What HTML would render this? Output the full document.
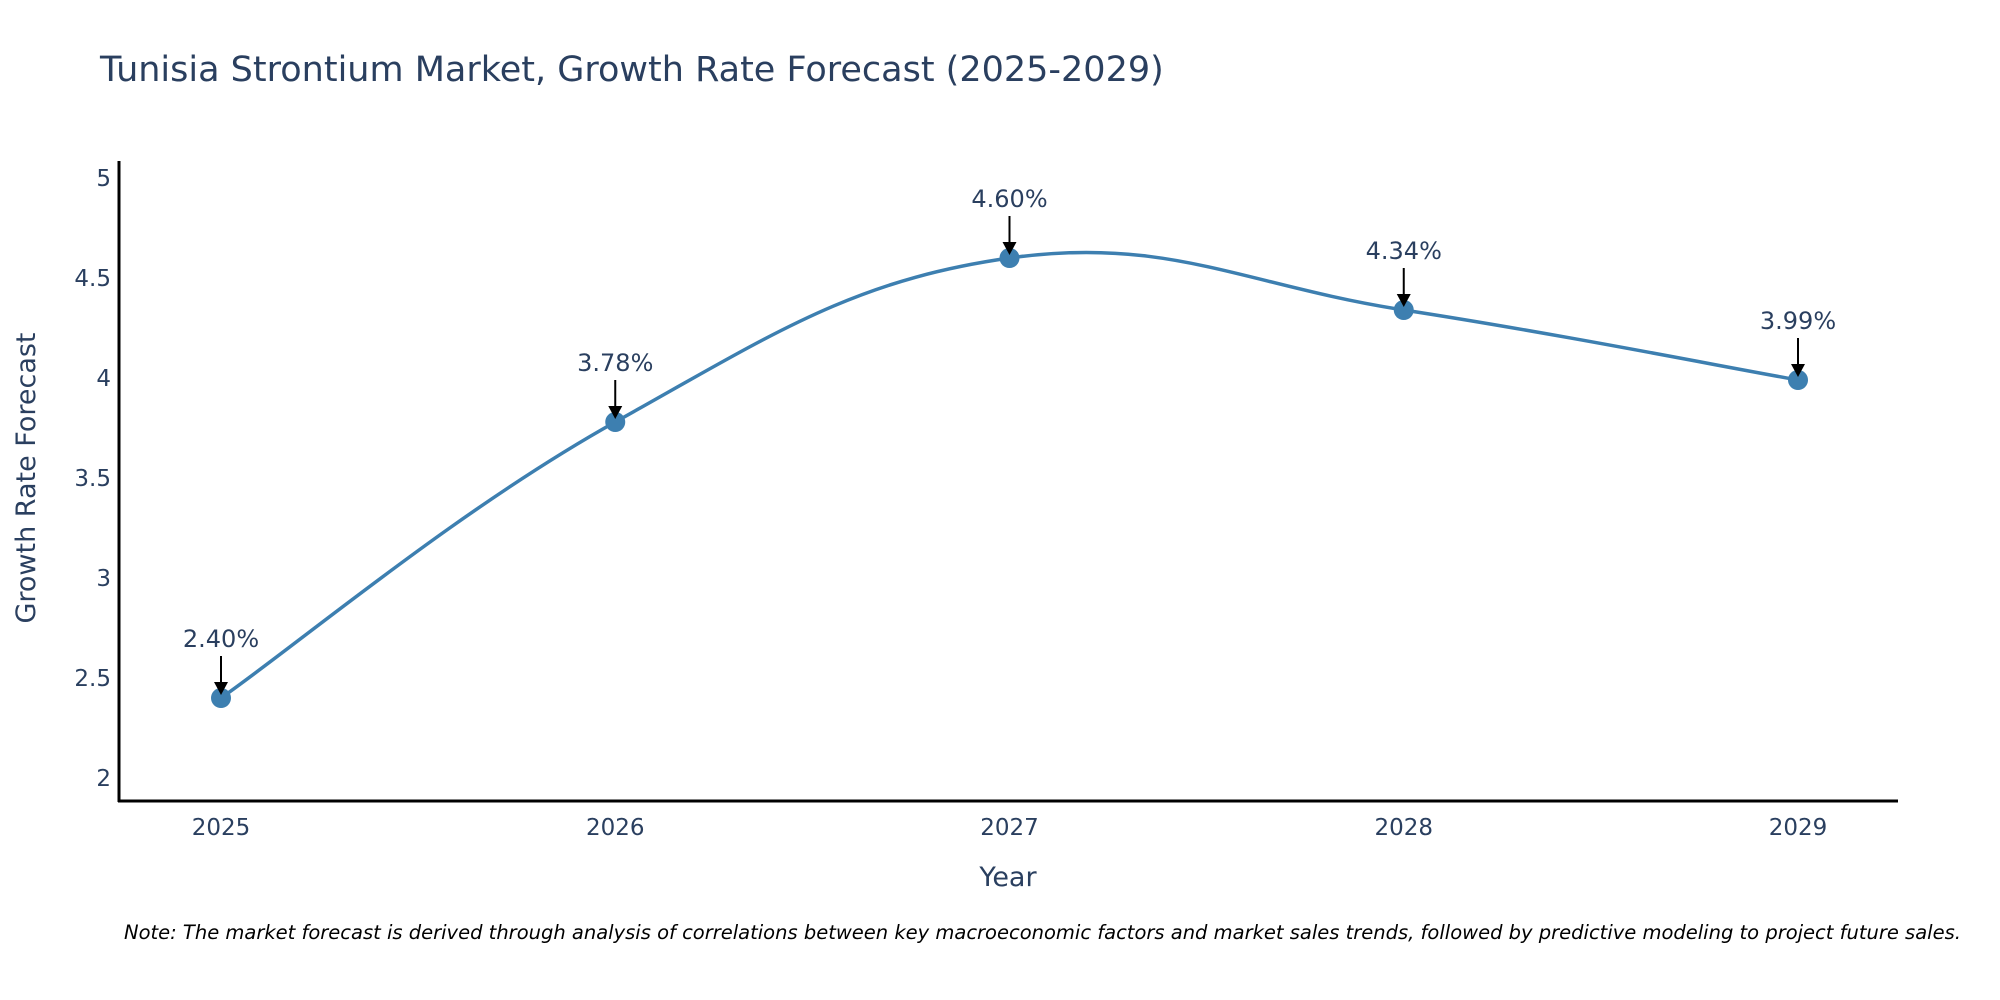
<!DOCTYPE html>
<html><head><meta charset="utf-8"><style>
html,body{margin:0;padding:0;background:#fff;}
svg{display:block;font-family:"DejaVu Sans","Liberation Sans",sans-serif;}
</style></head><body>
<svg id="chart" width="2000" height="1000" viewBox="0 0 2000 1000">
<text x="100" y="81" font-size="35" fill="#2a3f5f">Tunisia Strontium Market, Growth Rate Forecast (2025-2029)</text>
<g id="yticks"></g>
<g id="xticks"></g>
<line x1="119" y1="161" x2="119" y2="802" stroke="#000" stroke-width="3"/>
<line x1="118" y1="801" x2="1898" y2="801" stroke="#000" stroke-width="3"/>
<path id="line" fill="none" stroke="#3d7fb0" stroke-width="3.5"/>
<g id="points"></g>
<g id="annots"></g>
<text x="1008" y="886" font-size="27" fill="#2a3f5f" text-anchor="middle">Year</text>
<text transform="translate(35,478) rotate(-90)" font-size="27" fill="#2a3f5f" text-anchor="middle">Growth Rate Forecast</text>
<text x="124" y="939" font-size="19.5" font-style="italic" fill="#000">Note: The market forecast is derived through analysis of correlations between key macroeconomic factors and market sales trends, followed by predictive modeling to project future sales.</text>
</svg>
<script>
const years = [2025, 2026, 2027, 2028, 2029];
const values = [2.40, 3.78, 4.60, 4.34, 3.99];
const labels = ["2.40%", "3.78%", "4.60%", "4.34%", "3.99%"];
const yTicks = [2, 2.5, 3, 3.5, 4, 4.5, 5];
const yTickLabels = ["2", "2.5", "3", "3.5", "4", "4.5", "5"];

const NS = "http://www.w3.org/2000/svg";
function xs(i){ return 221 + i * 394.25; }
function ys(v){ return 778 - (v - 2) * 200; }
function mk(tag, attrs, parent){
  const e = document.createElementNS(NS, tag);
  for (const k in attrs) e.setAttribute(k, attrs[k]);
  parent.appendChild(e);
  return e;
}
const yg = document.getElementById('yticks');
yTicks.forEach((t, i) => {
  const e = mk('text', {x: 111, y: ys(t) + 8, 'font-size': 23, fill: '#2a3f5f', 'text-anchor': 'end'}, yg);
  
  
  e.textContent = yTickLabels[i];
});
const xg = document.getElementById('xticks');
years.forEach((y, i) => {
  const e = mk('text', {x: xs(i), y: 835, 'font-size': 23, fill: '#2a3f5f', 'text-anchor': 'middle'}, xg);
  
  
  e.textContent = String(y);
});
const pts = values.map((v, i) => [xs(i), ys(v)]);
let d = `M${pts[0][0]},${pts[0][1]}`;
const s = 1 / 5;
for (let i = 0; i < pts.length - 1; i++) {
  const p0 = pts[Math.max(0, i - 1)], p1 = pts[i], p2 = pts[i + 1], p3 = pts[Math.min(pts.length - 1, i + 2)];
  const c1 = [p1[0] + (p2[0] - p0[0]) * s, p1[1] + (p2[1] - p0[1]) * s];
  const c2 = [p2[0] - (p3[0] - p1[0]) * s, p2[1] - (p3[1] - p1[1]) * s];
  d += ` C${c1[0]},${c1[1]} ${c2[0]},${c2[1]} ${p2[0]},${p2[1]}`;
}
document.getElementById('line').setAttribute('d', d);
const pg = document.getElementById('points');
const ag = document.getElementById('annots');
pts.forEach((p, i) => {
  const c = mk('circle', {cx: p[0], cy: p[1], r: 10, fill: '#3d7fb0'}, pg);
  
  
  const l = mk('line', {x1: p[0], y1: p[1] - 42, x2: p[0], y2: p[1] - 14, stroke: '#000', 'stroke-width': 2}, ag);
  
  
  const h = mk('path', {d: `M${p[0]-7},${p[1]-16} L${p[0]+7},${p[1]-16} L${p[0]},${p[1]-3} Z`, fill: '#000'}, ag);
  
  
  const t = mk('text', {x: p[0], y: p[1] - 51, 'font-size': 24, fill: '#2a3f5f', 'text-anchor': 'middle'}, ag);
  
  
  t.textContent = labels[i];
});
</script>
</body></html>
